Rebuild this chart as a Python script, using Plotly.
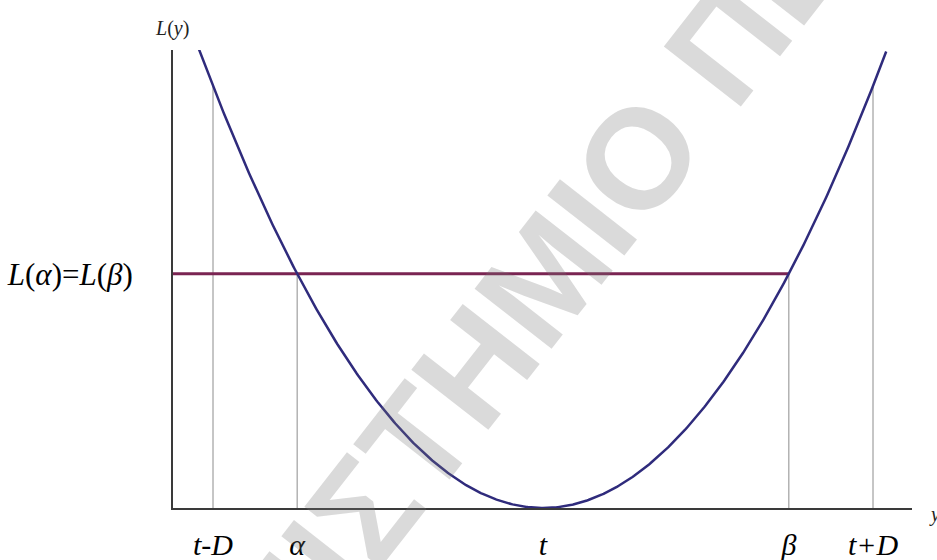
import numpy as np
import plotly.graph_objects as go

# Quadratic loss L(y) = k (y - t)^2 around target t with tolerance D
t = 0.0
D = 1.0
k = 1.0
alpha = -0.745
beta = 0.745
curve_from, curve_to = -1.045, 1.04

x_ticks = [t - D, alpha, t, beta, t + D]
x_tick_text = ["t-D", "α", "t", "β", "t+D"]
guide_x = [t - D, alpha, beta, t + D]


def loss(y):
    return k * (y - t) ** 2


level = loss(alpha)

serif = "Liberation Serif, Times New Roman, serif"

fig = go.Figure()

# vertical guides from the axis up to the loss curve
for gx in guide_x:
    fig.add_trace(go.Scatter(
        x=[gx, gx], y=[0, loss(gx)], mode="lines",
        line=dict(color="#8c8c8c", width=1), hoverinfo="skip", showlegend=False))

# equal-loss level L(alpha) = L(beta)
fig.add_trace(go.Scatter(
    x=[-1.13, beta], y=[level, level], mode="lines",
    line=dict(color="#7a2452", width=3), hoverinfo="skip", showlegend=False))

yy = np.linspace(curve_from, curve_to, 500)
fig.add_trace(go.Scatter(
    x=yy, y=loss(yy), mode="lines",
    line=dict(color="#2f2b7c", width=2.5), hoverinfo="skip", showlegend=False))


def px_x(px):
    return (px - 173) / 739


def px_y(py):
    return (508 - py) / 458


fig.update_layout(
    width=937, height=560,
    margin=dict(l=173, r=25, t=50, b=52),
    paper_bgcolor="white", plot_bgcolor="white",
    xaxis=dict(
        range=[-370 / 330, 369 / 330], showgrid=False, zeroline=False,
        showline=True, linecolor="#3a3a3a", linewidth=2, ticks="",
        tickvals=x_ticks, ticktext=[f"<i>{s}</i>" for s in x_tick_text],
        tickfont=dict(family=serif, size=30, color="black"),
        ticklabelstandoff=9, automargin=False),
    yaxis=dict(
        range=[0, 458 / 422], showgrid=False, zeroline=False,
        showline=True, linecolor="#3a3a3a", linewidth=2, ticks="",
        tickvals=[level], ticktext=["<i>L</i>(<i>α</i>)=<i>L</i>(<i>β</i>)"],
        tickfont=dict(family=serif, size=31, color="black"),
        ticklabelstandoff=32, automargin=False),
    annotations=[
        dict(text="<i>L</i>(<i>y</i>)", xref="paper", yref="paper",
             x=px_x(172), y=px_y(29), xanchor="center", yanchor="middle",
             showarrow=False, font=dict(family=serif, size=20, color="#222")),
        dict(text="<i>y</i>", xref="paper", yref="paper",
             x=px_x(927), y=px_y(514), xanchor="left", yanchor="middle",
             showarrow=False, font=dict(family=serif, size=20, color="#222")),
        dict(text="ΠΑΝΕΠΙΣΤΗΜΙΟ ΠΕΛΟΠΟΝΝΗΣΟΥ", xref="paper", yref="paper",
             x=px_x(720), y=px_y(52), xanchor="center", yanchor="middle",
             showarrow=False, textangle=-52,
             font=dict(family="Liberation Sans, Arial, sans-serif", size=142,
                       weight="bold", color="rgba(120,120,120,0.27)")),
    ],
)

fig.write_html("out.html")
